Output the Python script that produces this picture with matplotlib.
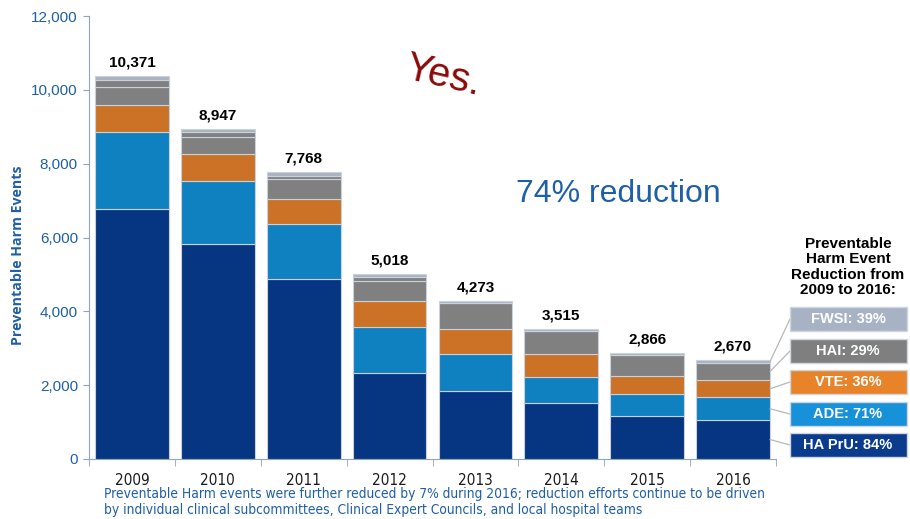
import matplotlib
matplotlib.use("Agg")
import matplotlib.pyplot as plt
from matplotlib.patches import ConnectionPatch
import numpy as np

years = ["2009", "2010", "2011", "2012", "2013", "2014", "2015", "2016"]
totals = [10371, 8947, 7768, 5018, 4273, 3515, 2866, 2670]
ha_pru = [6770, 5820, 4867, 2334, 1847, 1522, 1171, 1055]
ade = [2090, 1706, 1507, 1254, 1000, 704, 595, 613]
vte = [740, 741, 676, 685, 687, 621, 487, 468]
hai = [490, 467, 522, 540, 693, 622, 559, 470]
hai_other = [180, 117, 89, 117, 0, 0, 0, 0]
fwsi = [101, 96, 107, 88, 46, 46, 54, 64]

legend_labels = ["FWSI: 39%", "HAI: 29%", "VTE: 36%", "ADE: 71%", "HA PrU: 84%"]

c_pru = "#063581"
c_ade = "#0f80c0"
c_vte = "#cc7226"
c_hai = "#808080"
c_fwsi = "#a9b3c2"
blue_txt = "#1f5fa8"

W, H = 910, 519
fig = plt.figure(figsize=(W / 100, H / 100), dpi=100)
ax = fig.add_axes([89 / W, 1 - 459 / H, (776 - 89) / W, (459 - 16) / H])

x = np.arange(len(years))
bw = 0.86
series = [(ha_pru, c_pru), (ade, c_ade), (vte, c_vte), (hai, c_hai), (hai_other, c_hai), (fwsi, c_fwsi)]
bottom = np.zeros(len(years))
mids = []
for vals, col in series:
    v = np.array(vals, dtype=float)
    ax.bar(x, v, bw, bottom=bottom, color=col, edgecolor="#c9d1dd", linewidth=0.8, zorder=2)
    mids.append(bottom + v / 2)
    bottom = bottom + v

for xi, t in zip(x, totals):
    ax.text(xi, t + 180, f"{t:,}", ha="center", va="bottom", fontsize=11,
            fontweight="bold", color="black", family="Liberation Sans")

ax.set_xlim(-0.5, len(years) - 0.5)
ax.set_ylim(0, 12000)
ax.set_yticks(np.arange(0, 12001, 2000))
ax.set_yticklabels([f"{v:,}" for v in range(0, 12001, 2000)], color=blue_txt, fontsize=11,
                   family="Liberation Sans")
ax.set_xticks(x)
ax.set_xticklabels(years, fontsize=11, color="#1a1a1a", family="DejaVu Sans", fontstretch="condensed")
ax.set_xticks(np.arange(-0.5, len(years), 1), minor=True)
ax.tick_params(axis="x", which="major", length=0, pad=10)
ax.tick_params(axis="x", which="minor", length=5, color="#8fa4c0", direction="out")
ax.tick_params(axis="y", length=4, color="#8fa4c0", pad=4)
for s in ["top", "right"]:
    ax.spines[s].set_visible(False)
ax.spines["left"].set_color("#8fa4c0")
ax.spines["bottom"].set_color("#8fa4c0")

fig.text(18 / W, 1 - 255 / H, "Preventable Harm Events", color=blue_txt, fontsize=10.2,
         fontweight="bold", family="Open Sans", rotation=90, ha="center", va="center")

fig.text(443 / W, 1 - 76 / H, "Yes.", color="#8b0a0a", fontsize=29, rotation=-13,
         ha="center", va="center", family="Liberation Sans")
fig.text(618 / W, 1 - 194 / H, "74% reduction", color=blue_txt, fontsize=23,
         ha="center", va="center", family="Liberation Sans")

fig.text(848 / W, 1 - 267 / H, "Preventable\nHarm Event\nReduction from\n2009 to 2016:",
         ha="center", va="center", fontsize=11, fontweight="bold", linespacing=1.15,
         family="Liberation Sans")

box_cols = ["#a7b3c4", "#7f7f7f", "#e8832a", "#1791d9", "#0a3b8c"]
box_y = [319, 351, 382, 414, 445]
seg_idx = [5, 3, 2, 1, 0]
for lab, col, by, si in zip(legend_labels, box_cols, box_y, seg_idx):
    fig.patches.append(plt.Rectangle((790 / W, 1 - (by + 12) / H), 117 / W, 24 / H,
                                     transform=fig.transFigure, facecolor=col,
                                     edgecolor="#d0d6de", linewidth=1.0))
    fig.text(848 / W, 1 - by / H, lab, ha="center", va="center", color="white",
             fontsize=10.5, fontweight="bold", family="Liberation Sans")
    con = ConnectionPatch(xyA=(7 + bw / 2, mids[si][7]), coordsA=ax.transData,
                          xyB=(790 / W, 1 - by / H), coordsB=fig.transFigure,
                          color="#b8b8b8", linewidth=0.9)
    fig.add_artist(con)

fig.text(104 / W, 1 - 494 / H,
         "Preventable Harm events were further reduced by 7% during 2016; reduction efforts continue to be driven",
         color=blue_txt, fontsize=9.95, va="center", ha="left", family="DejaVu Sans", fontstretch="condensed")
fig.text(104 / W, 1 - 510 / H,
         "by individual clinical subcommittees, Clinical Expert Councils, and local hospital teams",
         color=blue_txt, fontsize=9.95, va="center", ha="left", family="DejaVu Sans", fontstretch="condensed")

fig.savefig("out.png", dpi=100)
